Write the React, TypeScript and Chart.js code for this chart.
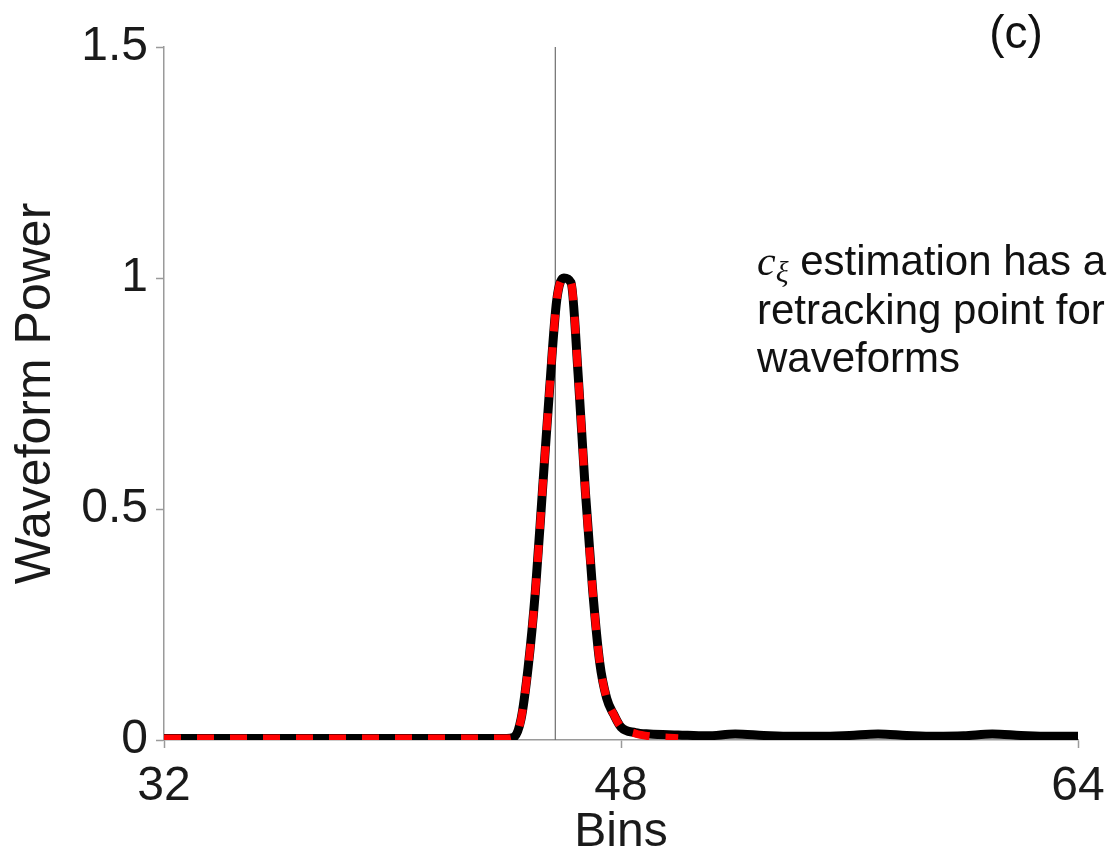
import React, { useEffect, useRef } from "react";
import { Chart, registerables } from "chart.js";

Chart.register(...registerables);

// Measured waveform (black solid)
const binsMeasured = [
  32, 33, 34, 35, 36, 37, 38, 39, 40, 41, 42, 43, 44, 44.25, 44.5, 44.75, 45,
  45.25, 45.5, 45.75, 46, 46.25, 46.5, 46.75, 47, 47.25, 47.5, 47.75, 48, 48.5,
  49, 50, 51, 52, 53, 54, 55, 56, 57, 58, 59, 60, 61, 62, 63, 64,
];
const powerMeasured = [
  0.003, 0.003, 0.003, 0.003, 0.003, 0.003, 0.003, 0.003, 0.003, 0.003, 0.003,
  0.003, 0.003, 0.006, 0.045, 0.158, 0.32, 0.54, 0.76, 0.952, 1.0, 0.99, 0.79,
  0.54, 0.33, 0.17, 0.09, 0.055, 0.028, 0.016, 0.013, 0.011, 0.009, 0.013,
  0.01, 0.008, 0.008, 0.01, 0.013, 0.01, 0.008, 0.009, 0.013, 0.01, 0.008,
  0.008,
];

// Model fit (red dashed)
const binsModel = [
  32, 33, 34, 35, 36, 37, 38, 39, 40, 41, 42, 43, 44, 44.25, 44.5, 44.75, 45,
  45.25, 45.5, 45.75, 46, 46.25, 46.5, 46.75, 47, 47.25, 47.5, 47.75, 48, 48.5,
  49, 50,
];
const powerModel = [
  0.003, 0.003, 0.003, 0.003, 0.003, 0.003, 0.003, 0.003, 0.003, 0.003, 0.003,
  0.003, 0.003, 0.006, 0.045, 0.158, 0.32, 0.54, 0.76, 0.952, 1.0, 0.99, 0.79,
  0.54, 0.33, 0.17, 0.09, 0.055, 0.028, 0.014, 0.008, 0.004,
];

// Retracking point (vertical line)
const retrackBin = 45.7;

const xTicks = [32, 48, 64];
const yTicks = [0, 0.5, 1, 1.5];

const SANS = "'Liberation Sans', Arial, Helvetica, sans-serif";
const SERIF = "'Liberation Serif', 'Times New Roman', serif";

const annotationPlugin = {
  id: "annotations",
  afterDraw(chart: any) {
    const ctx = chart.ctx as CanvasRenderingContext2D;
    const area = chart.chartArea;
    ctx.save();
    ctx.fillStyle = "#111";
    ctx.textBaseline = "alphabetic";

    // panel label
    ctx.font = `46px ${SANS}`;
    ctx.textAlign = "center";
    ctx.fillText("(c)", area.right - 62, area.top + 1);

    // annotation text
    ctx.textAlign = "left";
    const x0 = area.left + 593;
    const y1 = area.top + 228;
    const lh = 48.5;
    let x = x0;
    ctx.font = `italic 42px ${SERIF}`;
    ctx.fillText("c", x, y1);
    x += ctx.measureText("c").width;
    ctx.font = `italic 30px ${SERIF}`;
    ctx.fillText("ξ", x, y1 + 7);
    x += ctx.measureText("ξ").width;
    ctx.font = `42px ${SANS}`;
    ctx.fillText(" estimation has a", x, y1);
    ctx.fillText("retracking point for", x0, y1 + lh);
    ctx.fillText("waveforms", x0, y1 + 2 * lh);
    ctx.restore();
  },
};

export default function App() {
  const canvasRef = useRef<HTMLCanvasElement | null>(null);

  useEffect(() => {
    document.body.style.margin = "0";
    const canvas = canvasRef.current;
    if (!canvas) return;

    const measured = binsMeasured.map((b, i) => ({ x: b, y: powerMeasured[i] }));
    const model = binsModel.map((b, i) => ({ x: b, y: powerModel[i] }));
    const vline = [
      { x: retrackBin, y: yTicks[0] },
      { x: retrackBin, y: yTicks[yTicks.length - 1] },
    ];

    const axisColor = "#9a9a9a";

    const chart = new Chart(canvas, {
      type: "line",
      data: {
        datasets: [
          {
            label: "model",
            data: model,
            borderColor: "#ff0000",
            borderWidth: 8,
            borderDash: [17, 16],
            pointRadius: 0,
            cubicInterpolationMode: "monotone",
            fill: false,
          },
          {
            label: "measured",
            data: measured,
            borderColor: "#000000",
            borderWidth: 9,
            pointRadius: 0,
            cubicInterpolationMode: "monotone",
            borderJoinStyle: "round",
            fill: false,
          },
          {
            label: "retracking",
            data: vline,
            borderColor: "#6e6e6e",
            borderWidth: 1.2,
            pointRadius: 0,
            tension: 0,
            fill: false,
          },
        ],
      },
      options: {
        responsive: false,
        animation: false,
        devicePixelRatio: 1,
        layout: { padding: { top: 47, right: 32, left: 0, bottom: 0 } },
        plugins: {
          legend: { display: false },
          tooltip: { enabled: false },
        },
        scales: {
          x: {
            type: "linear",
            min: xTicks[0],
            max: xTicks[xTicks.length - 1],
            afterBuildTicks: (scale: any) => {
              scale.ticks = xTicks.map((v) => ({ value: v }));
            },
            ticks: {
              font: { family: SANS, size: 48 },
              color: "#1a1a1a",
              padding: 10,
              maxRotation: 0,
              autoSkip: false,
              callback: (v: any) => String(v),
            },
            grid: {
              display: true,
              drawOnChartArea: false,
              drawTicks: true,
              tickLength: 8,
              tickColor: axisColor,
              tickWidth: 1.5,
            },
            border: { display: true, color: axisColor, width: 1.5 },
            title: {
              display: true,
              text: "Bins",
              color: "#1a1a1a",
              font: { family: SANS, size: 48, lineHeight: 1 },
              padding: { top: 0, bottom: 0 },
            },
            afterFit: (scale: any) => {
              scale.height = 117;
              scale.paddingLeft = 0;
              scale.paddingRight = 0;
            },
          },
          y: {
            type: "linear",
            min: yTicks[0],
            max: yTicks[yTicks.length - 1],
            afterBuildTicks: (scale: any) => {
              scale.ticks = yTicks.map((v) => ({ value: v }));
            },
            ticks: {
              font: { family: SANS, size: 48 },
              color: "#1a1a1a",
              padding: 8,
              callback: (v: any) => String(v),
            },
            grid: {
              display: true,
              drawOnChartArea: false,
              drawTicks: true,
              tickLength: 8,
              tickColor: axisColor,
              tickWidth: 1.5,
            },
            border: { display: true, color: axisColor, width: 1.5 },
            title: {
              display: true,
              text: "Waveform Power",
              color: "#1a1a1a",
              font: { family: SANS, size: 50, lineHeight: 1 },
              padding: { top: 11, bottom: 0 },
            },
            afterFit: (scale: any) => {
              scale.width = 164;
              scale.paddingTop = 0;
              scale.paddingBottom = 0;
            },
          },
        },
      },
      plugins: [annotationPlugin],
    } as any);

    return () => {
      chart.destroy();
    };
  }, []);

  return (
    <div
      style={{
        position: "fixed",
        left: 0,
        top: 0,
        width: 1110,
        height: 857,
        background: "#fff",
        overflow: "hidden",
      }}
    >
      <canvas ref={canvasRef} width={1110} height={857} style={{ display: "block" }} />
    </div>
  );
}
